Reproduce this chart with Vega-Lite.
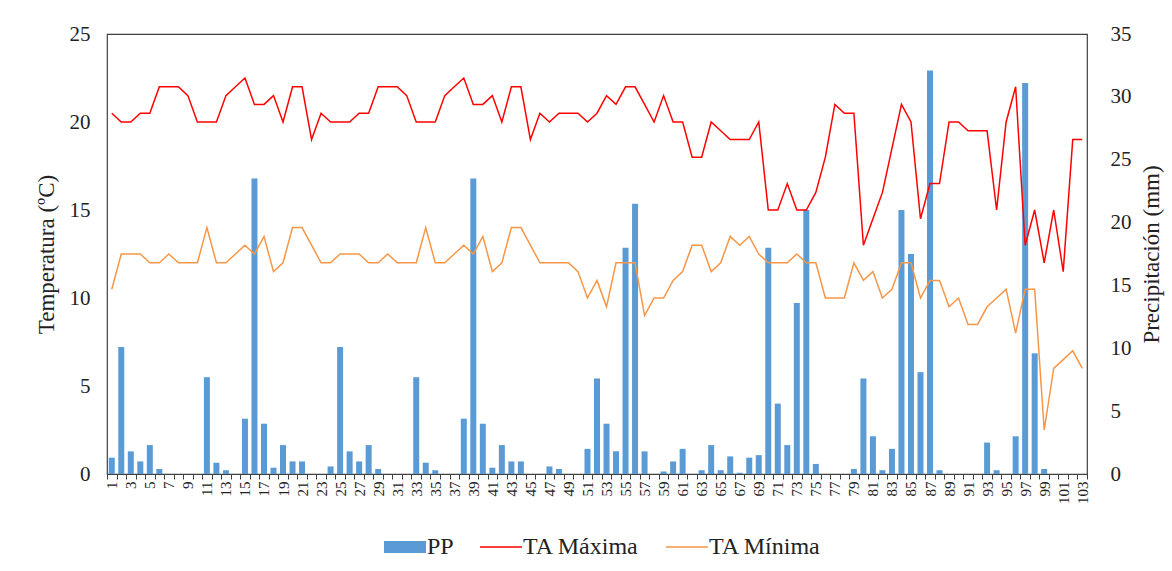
{
  "$schema": "https://vega.github.io/schema/vega-lite/v6.json",
  "width": 980,
  "height": 440,
  "autosize": {"type": "none"},
  "padding": {"left": 107, "top": 34, "right": 85, "bottom": 97},
  "background": "white",
  "config": {
    "font": "Liberation Serif",
    "view": {"stroke": "#404040", "strokeWidth": 1.2},
    "axis": {
      "labelFont": "Liberation Serif",
      "titleFont": "Liberation Serif",
      "labelColor": "#222222",
      "titleColor": "#222222",
      "titleFontWeight": "normal",
      "grid": false
    }
  },
  "data": {
    "values": [
      {"dia": 1, "pp": 1.3, "tmax": 20.5, "tmin": 10.5},
      {"dia": 2, "pp": 10.1, "tmax": 20, "tmin": 12.5},
      {"dia": 3, "pp": 1.8, "tmax": 20, "tmin": 12.5},
      {"dia": 4, "pp": 1.0, "tmax": 20.5, "tmin": 12.5},
      {"dia": 5, "pp": 2.3, "tmax": 20.5, "tmin": 12},
      {"dia": 6, "pp": 0.4, "tmax": 22, "tmin": 12},
      {"dia": 7, "pp": 0, "tmax": 22, "tmin": 12.5},
      {"dia": 8, "pp": 0, "tmax": 22, "tmin": 12},
      {"dia": 9, "pp": 0, "tmax": 21.5, "tmin": 12},
      {"dia": 10, "pp": 0, "tmax": 20, "tmin": 12},
      {"dia": 11, "pp": 7.7, "tmax": 20, "tmin": 14},
      {"dia": 12, "pp": 0.9, "tmax": 20, "tmin": 12},
      {"dia": 13, "pp": 0.3, "tmax": 21.5, "tmin": 12},
      {"dia": 14, "pp": 0, "tmax": 22, "tmin": 12.5},
      {"dia": 15, "pp": 4.4, "tmax": 22.5, "tmin": 13},
      {"dia": 16, "pp": 23.5, "tmax": 21, "tmin": 12.5},
      {"dia": 17, "pp": 4.0, "tmax": 21, "tmin": 13.5},
      {"dia": 18, "pp": 0.5, "tmax": 21.5, "tmin": 11.5},
      {"dia": 19, "pp": 2.3, "tmax": 20, "tmin": 12},
      {"dia": 20, "pp": 1.0, "tmax": 22, "tmin": 14},
      {"dia": 21, "pp": 1.0, "tmax": 22, "tmin": 14},
      {"dia": 22, "pp": 0, "tmax": 19, "tmin": 13},
      {"dia": 23, "pp": 0, "tmax": 20.5, "tmin": 12},
      {"dia": 24, "pp": 0.6, "tmax": 20, "tmin": 12},
      {"dia": 25, "pp": 10.1, "tmax": 20, "tmin": 12.5},
      {"dia": 26, "pp": 1.8, "tmax": 20, "tmin": 12.5},
      {"dia": 27, "pp": 1.0, "tmax": 20.5, "tmin": 12.5},
      {"dia": 28, "pp": 2.3, "tmax": 20.5, "tmin": 12},
      {"dia": 29, "pp": 0.4, "tmax": 22, "tmin": 12},
      {"dia": 30, "pp": 0, "tmax": 22, "tmin": 12.5},
      {"dia": 31, "pp": 0, "tmax": 22, "tmin": 12},
      {"dia": 32, "pp": 0, "tmax": 21.5, "tmin": 12},
      {"dia": 33, "pp": 7.7, "tmax": 20, "tmin": 12},
      {"dia": 34, "pp": 0.9, "tmax": 20, "tmin": 14},
      {"dia": 35, "pp": 0.3, "tmax": 20, "tmin": 12},
      {"dia": 36, "pp": 0, "tmax": 21.5, "tmin": 12},
      {"dia": 37, "pp": 0, "tmax": 22, "tmin": 12.5},
      {"dia": 38, "pp": 4.4, "tmax": 22.5, "tmin": 13},
      {"dia": 39, "pp": 23.5, "tmax": 21, "tmin": 12.5},
      {"dia": 40, "pp": 4.0, "tmax": 21, "tmin": 13.5},
      {"dia": 41, "pp": 0.5, "tmax": 21.5, "tmin": 11.5},
      {"dia": 42, "pp": 2.3, "tmax": 20, "tmin": 12},
      {"dia": 43, "pp": 1.0, "tmax": 22, "tmin": 14},
      {"dia": 44, "pp": 1.0, "tmax": 22, "tmin": 14},
      {"dia": 45, "pp": 0, "tmax": 19, "tmin": 13},
      {"dia": 46, "pp": 0, "tmax": 20.5, "tmin": 12},
      {"dia": 47, "pp": 0.6, "tmax": 20, "tmin": 12},
      {"dia": 48, "pp": 0.4, "tmax": 20.5, "tmin": 12},
      {"dia": 49, "pp": 0, "tmax": 20.5, "tmin": 12},
      {"dia": 50, "pp": 0, "tmax": 20.5, "tmin": 11.5},
      {"dia": 51, "pp": 2.0, "tmax": 20, "tmin": 10},
      {"dia": 52, "pp": 7.6, "tmax": 20.5, "tmin": 11},
      {"dia": 53, "pp": 4.0, "tmax": 21.5, "tmin": 9.5},
      {"dia": 54, "pp": 1.8, "tmax": 21, "tmin": 12},
      {"dia": 55, "pp": 18.0, "tmax": 22, "tmin": 12},
      {"dia": 56, "pp": 21.5, "tmax": 22, "tmin": 12},
      {"dia": 57, "pp": 1.8, "tmax": 21, "tmin": 9},
      {"dia": 58, "pp": 0, "tmax": 20, "tmin": 10},
      {"dia": 59, "pp": 0.2, "tmax": 21.5, "tmin": 10},
      {"dia": 60, "pp": 1.0, "tmax": 20, "tmin": 11},
      {"dia": 61, "pp": 2.0, "tmax": 20, "tmin": 11.5},
      {"dia": 62, "pp": 0, "tmax": 18, "tmin": 13},
      {"dia": 63, "pp": 0.3, "tmax": 18, "tmin": 13},
      {"dia": 64, "pp": 2.3, "tmax": 20, "tmin": 11.5},
      {"dia": 65, "pp": 0.3, "tmax": 19.5, "tmin": 12},
      {"dia": 66, "pp": 1.4, "tmax": 19, "tmin": 13.5},
      {"dia": 67, "pp": 0.1, "tmax": 19, "tmin": 13},
      {"dia": 68, "pp": 1.3, "tmax": 19, "tmin": 13.5},
      {"dia": 69, "pp": 1.5, "tmax": 20, "tmin": 12.5},
      {"dia": 70, "pp": 18.0, "tmax": 15, "tmin": 12},
      {"dia": 71, "pp": 5.6, "tmax": 15, "tmin": 12},
      {"dia": 72, "pp": 2.3, "tmax": 16.5, "tmin": 12},
      {"dia": 73, "pp": 13.6, "tmax": 15, "tmin": 12.5},
      {"dia": 74, "pp": 21.0, "tmax": 15, "tmin": 12},
      {"dia": 75, "pp": 0.8, "tmax": 16, "tmin": 12},
      {"dia": 76, "pp": 0, "tmax": 18, "tmin": 10},
      {"dia": 77, "pp": 0, "tmax": 21, "tmin": 10},
      {"dia": 78, "pp": 0, "tmax": 20.5, "tmin": 10},
      {"dia": 79, "pp": 0.4, "tmax": 20.5, "tmin": 12},
      {"dia": 80, "pp": 7.6, "tmax": 13, "tmin": 11},
      {"dia": 81, "pp": 3.0, "tmax": 14.5, "tmin": 11.5},
      {"dia": 82, "pp": 0.3, "tmax": 16, "tmin": 10},
      {"dia": 83, "pp": 2.0, "tmax": 18.5, "tmin": 10.5},
      {"dia": 84, "pp": 21.0, "tmax": 21, "tmin": 12},
      {"dia": 85, "pp": 17.5, "tmax": 20, "tmin": 12},
      {"dia": 86, "pp": 8.1, "tmax": 14.5, "tmin": 10},
      {"dia": 87, "pp": 32.1, "tmax": 16.5, "tmin": 11},
      {"dia": 88, "pp": 0.3, "tmax": 16.5, "tmin": 11},
      {"dia": 89, "pp": 0, "tmax": 20, "tmin": 9.5},
      {"dia": 90, "pp": 0, "tmax": 20, "tmin": 10},
      {"dia": 91, "pp": 0, "tmax": 19.5, "tmin": 8.5},
      {"dia": 92, "pp": 0, "tmax": 19.5, "tmin": 8.5},
      {"dia": 93, "pp": 2.5, "tmax": 19.5, "tmin": 9.5},
      {"dia": 94, "pp": 0.3, "tmax": 15, "tmin": 10},
      {"dia": 95, "pp": 0, "tmax": 20, "tmin": 10.5},
      {"dia": 96, "pp": 3.0, "tmax": 22, "tmin": 8},
      {"dia": 97, "pp": 31.1, "tmax": 13, "tmin": 10.5},
      {"dia": 98, "pp": 9.6, "tmax": 15, "tmin": 10.5},
      {"dia": 99, "pp": 0.4, "tmax": 12, "tmin": 2.5},
      {"dia": 100, "pp": 0, "tmax": 15, "tmin": 6},
      {"dia": 101, "pp": 0, "tmax": 11.5, "tmin": 6.5},
      {"dia": 102, "pp": 0, "tmax": 19, "tmin": 7},
      {"dia": 103, "pp": 0, "tmax": 19, "tmin": 6}
    ]
  },
  "encoding": {
    "x": {
      "field": "dia",
      "type": "ordinal",
      "scale": {"paddingInner": 0, "paddingOuter": 0},
      "axis": {
        "title": null,
        "labelAngle": -90,
        "labelFontSize": 15,
        "labelPadding": 2,
        "labelOverlap": false,
        "labelBound": false,
        "labelExpr": "toNumber(datum.value) % 2 === 1 ? datum.label : ''",
        "tickBand": "extent",
        "tickSize": 5,
        "tickColor": "#404040",
        "domainColor": "#404040",
        "domainWidth": 1.2
      }
    }
  },
  "layer": [
    {
      "mark": {"type": "bar", "width": {"band": 0.63}},
      "encoding": {
        "y": {
          "field": "pp",
          "type": "quantitative",
          "scale": {"domain": [0, 35], "nice": false},
          "axis": {
            "orient": "right",
            "title": "Precipitación (mm)",
            "titleAngle": -90,
            "titleFontSize": 23,
            "titlePadding": 32,
            "labelFontSize": 21,
            "labelPadding": 23,
            "values": [0, 5, 10, 15, 20, 25, 30, 35],
            "ticks": false,
            "tickSize": 0,
            "domain": false
          }
        },
        "color": {
          "datum": "PP",
          "type": "nominal",
          "scale": {
            "domain": ["PP", "TA Máxima", "TA Mínima"],
            "range": ["#5B9BD5", "#FF0000", "#F79646"]
          },
          "legend": {
            "title": null,
            "orient": "none",
            "direction": "horizontal",
            "legendX": 286,
            "legendY": 501,
            "padding": 0,
            "labelFont": "Liberation Serif",
            "labelFontSize": 24,
            "labelColor": "#222222",
            "labelOffset": 10,
            "columnPadding": 23,
            "symbolSize": 1764,
            "encode": {
              "symbols": {
                "update": {
                  "shape": {"signal": "datum.value === 'PP' ? 'M-1,-0.286H1V0.286H-1Z' : 'stroke'"},
                  "fill": {"signal": "datum.value === 'PP' ? scale('color', datum.value) : 'transparent'"},
                  "stroke": {"signal": "scale('color', datum.value)"},
                  "strokeWidth": {"signal": "datum.value === 'PP' ? 0 : 1.5"},
                  "opacity": {"value": 1}
                }
              }
            }
          }
        }
      }
    },
    {
      "layer": [
        {
          "mark": {"type": "line", "strokeWidth": 1.5},
          "encoding": {
            "y": {
              "field": "tmax",
              "type": "quantitative",
              "scale": {"domain": [0, 25], "nice": false},
              "axis": {
                "orient": "left",
                "title": "Temperatura (ºC)",
                "titleFontSize": 23,
                "titlePadding": 11,
                "labelFontSize": 21,
                "labelPadding": 17,
                "values": [0, 5, 10, 15, 20, 25],
                "ticks": false,
                "tickSize": 0,
                "domain": false
              }
            },
            "color": {"datum": "TA Máxima", "type": "nominal"}
          }
        },
        {
          "mark": {"type": "line", "strokeWidth": 1.5},
          "encoding": {
            "y": {
              "field": "tmin",
              "type": "quantitative",
              "scale": {"domain": [0, 25], "nice": false},
              "axis": {
                "orient": "left",
                "title": "Temperatura (ºC)",
                "titleFontSize": 23,
                "titlePadding": 11,
                "labelFontSize": 21,
                "labelPadding": 17,
                "values": [0, 5, 10, 15, 20, 25],
                "ticks": false,
                "tickSize": 0,
                "domain": false
              }
            },
            "color": {"datum": "TA Mínima", "type": "nominal"}
          }
        }
      ]
    }
  ],
  "resolve": {"scale": {"y": "independent"}}
}
